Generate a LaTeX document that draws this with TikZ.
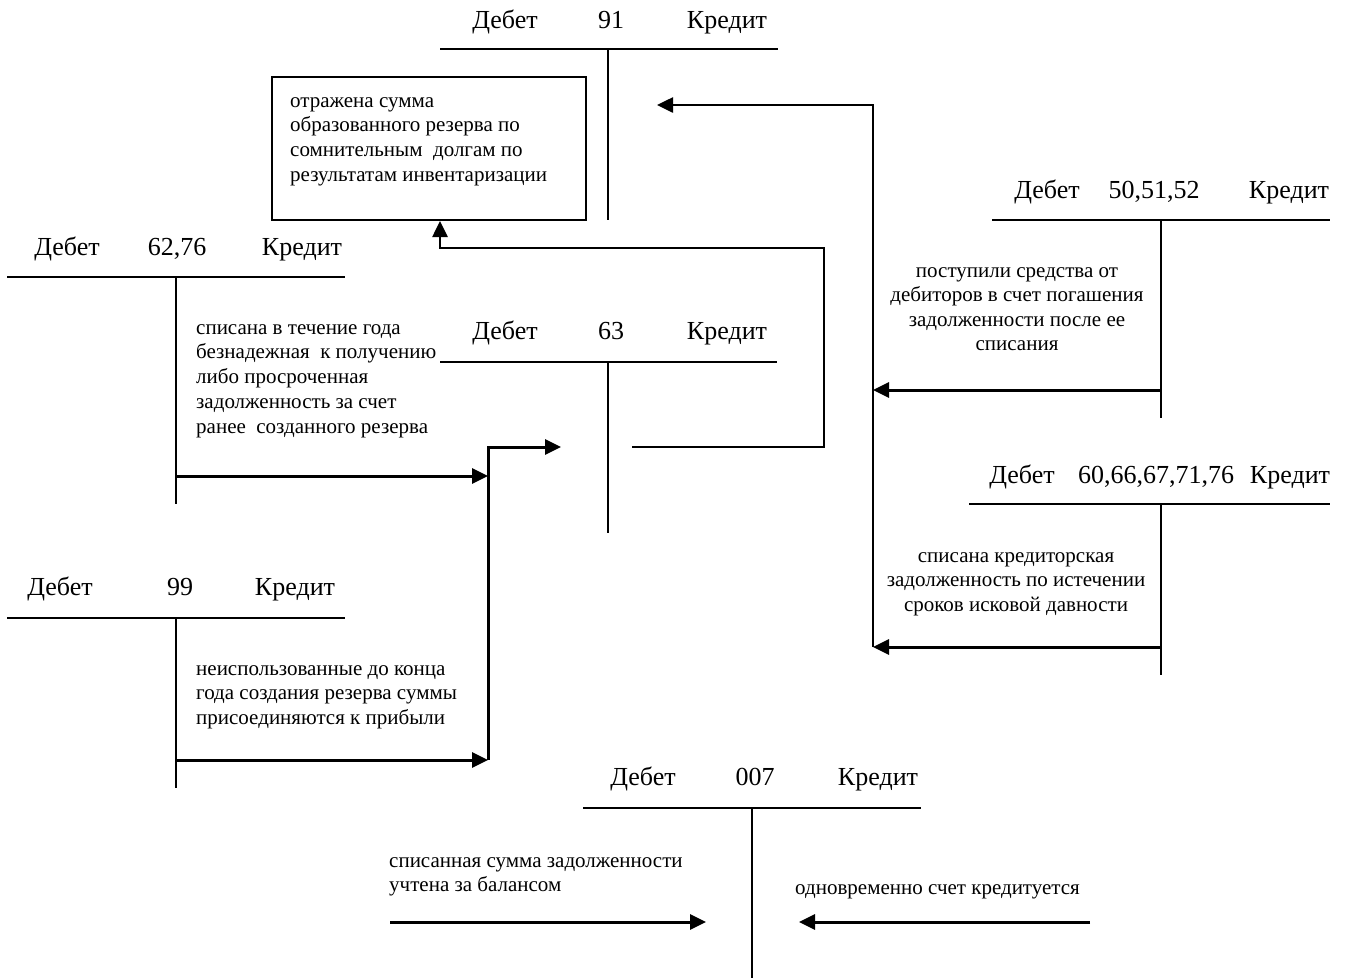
\documentclass[tikz,border=0pt]{standalone}
\usepackage{fontspec}
\setmainfont{Liberation Serif}
\usetikzlibrary{arrows.meta}
\begin{document}
\begin{tikzpicture}[x=1pt,y=-1pt,
  tline/.style={line width=2pt},
  flow/.style={line width=3pt,-{Triangle[length=16pt,width=15pt]}},
  loop/.style={line width=2.6pt,-{Triangle[length=16pt,width=15pt]}},
  hd/.style={font=\fontsize{26}{30}\selectfont,inner sep=0pt,anchor=base},
  note/.style={font=\fontsize{21}{24.8}\selectfont,inner sep=0pt,align=left},
  cnote/.style={font=\fontsize{21}{24.6}\selectfont,inner sep=0pt,align=center,anchor=north},
]
\fill[white] (0,0) rectangle (1346,978);
\useasboundingbox (0,0) rectangle (1346,978);

% ---------- account 91 ----------
\node[hd] (h91d) at (505,28) {Дебет};
\node[hd] (h91n) at (611,28) {91};
\node[hd] (h91k) at (727,28) {Кредит};
\coordinate (a91l) at (440,49);
\coordinate (a91r) at (778,49);
\coordinate (a91t) at (608,49);
\coordinate (a91b) at (608,220);
\draw[tline] (a91l) -- (a91r);
\draw[tline] (a91t) -- (a91b);

\node[draw,line width=2pt,minimum width=314pt,minimum height=143pt,inner sep=0pt] (box91) at (429,148.5) {};
\node[note,anchor=north west] (t91) at (290,97)
  {отражена сумма\\образованного резерва по\\сомнительным\ \ долгам по\\результатам инвентаризации};

% ---------- account 62,76 ----------
\node[hd] (h62d) at (67,255) {Дебет};
\node[hd] (h62n) at (177,255) {62,76};
\node[hd] (h62k) at (302,255) {Кредит};
\coordinate (a62l) at (7,277);
\coordinate (a62r) at (345,277);
\coordinate (a62t) at (176,277);
\coordinate (a62b) at (176,504);
\draw[tline] (a62l) -- (a62r);
\draw[tline] (a62t) -- (a62b);
\node[note,anchor=north west] (t62) at (196,324)
  {списана в течение года\\безнадежная\ \ к получению\\либо просроченная\\задолженность за счет\\ранее\ \ созданного резерва};

% ---------- account 63 ----------
\node[hd] (h63d) at (505,339) {Дебет};
\node[hd] (h63n) at (611,339) {63};
\node[hd] (h63k) at (727,339) {Кредит};
\coordinate (a63l) at (440,362);
\coordinate (a63r) at (777,362);
\coordinate (a63t) at (608,362);
\coordinate (a63b) at (608,533);
\draw[tline] (a63l) -- (a63r);
\draw[tline] (a63t) -- (a63b);

% ---------- account 99 ----------
\node[hd] (h99d) at (60,595) {Дебет};
\node[hd] (h99n) at (180,595) {99};
\node[hd] (h99k) at (295,595) {Кредит};
\coordinate (a99l) at (7,618);
\coordinate (a99r) at (345,618);
\coordinate (a99t) at (176,618);
\coordinate (a99b) at (176,788);
\draw[tline] (a99l) -- (a99r);
\draw[tline] (a99t) -- (a99b);
\node[note,anchor=north west] (t99) at (196,665)
  {неиспользованные до конца\\года создания резерва суммы\\присоединяются к прибыли};

% ---------- account 50,51,52 ----------
\node[hd] (h50d) at (1047,198) {Дебет};
\node[hd] (h50n) at (1154,198) {50,51,52};
\node[hd] (h50k) at (1289,198) {Кредит};
\coordinate (a50l) at (992,220);
\coordinate (a50r) at (1330,220);
\coordinate (a50t) at (1161,220);
\coordinate (a50b) at (1161,418);
\draw[tline] (a50l) -- (a50r);
\draw[tline] (a50t) -- (a50b);
\node[cnote] (t50) at (1017,267)
  {поступили средства от\\дебиторов в счет погашения\\задолженности после ее\\списания};

% ---------- account 60,66,67,71,76 ----------
\node[hd] (h60d) at (1022,483) {Дебет};
\node[hd] (h60n) at (1156,483) {60,66,67,71,76};
\node[hd] (h60k) at (1290,483) {Кредит};
\coordinate (a60l) at (969,504);
\coordinate (a60r) at (1330,504);
\coordinate (a60t) at (1161,504);
\coordinate (a60b) at (1161,675);
\draw[tline] (a60l) -- (a60r);
\draw[tline] (a60t) -- (a60b);
\node[cnote] (t60) at (1016,552)
  {списана кредиторская\\задолженность по истечении\\сроков исковой давности};

% ---------- account 007 ----------
\node[hd] (h07d) at (643,785) {Дебет};
\node[hd] (h07n) at (755,785) {007};
\node[hd] (h07k) at (878,785) {Кредит};
\coordinate (a07l) at (583,808);
\coordinate (a07r) at (921,808);
\coordinate (a07t) at (752,808);
\coordinate (a07b) at (752,978);
\draw[tline] (a07l) -- (a07r);
\draw[tline] (a07t) -- (a07b);
\node[note,anchor=north west] (t07a) at (389,857)
  {списанная сумма задолженности\\учтена за балансом};
\node[note,anchor=base west] (t07b) at (795,894) {одновременно счет кредитуется};

% ---------- entries ----------
\coordinate (s62) at (176,476);
\coordinate (s99) at (176,760);
\coordinate (jn) at (488,476);
\coordinate (jb) at (488,760);
\coordinate (jt) at (488,447);
\coordinate (e63) at (561,447);
\draw[flow] (s62) -- (jn);
\draw[flow] (s99) -- (jb);
\draw[flow] (jb) -- (jt) -- (e63);

\coordinate (c63) at (632,447);
\coordinate (c63r) at (824,447);
\coordinate (c63u) at (824,248);
\coordinate (c63l) at (440,248);
\draw[loop] (c63) -- (c63r) -- (c63u) -- (c63l) -- (c63l |- box91.south);

\coordinate (s50) at (1161,390);
\coordinate (s60) at (1161,647);
\coordinate (v50) at (873,390);
\coordinate (v60) at (873,647);
\coordinate (vtop) at (873,105);
\coordinate (e91) at (657,105);
\draw[flow] (s50) -- (v50);
\draw[flow] (s60) -- (v60);
\draw[loop] (v60) -- (vtop) -- (e91);

\coordinate (l07s) at (390,922);
\coordinate (l07e) at (706,922);
\coordinate (r07s) at (1090,922);
\coordinate (r07e) at (799,922);
\draw[flow] (l07s) -- (l07e);
\draw[flow] (r07s) -- (r07e);
\end{tikzpicture}
\end{document}
